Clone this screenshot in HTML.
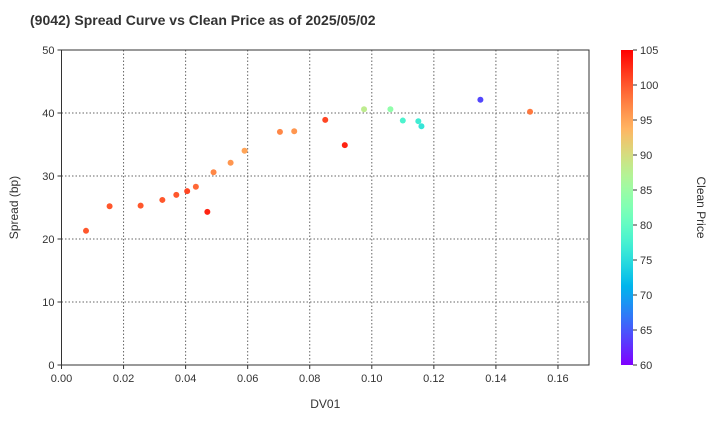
<!DOCTYPE html>
<html><head><meta charset="utf-8"><style>
body{margin:0;background:#fff}
svg text{font-family:"Liberation Sans",sans-serif;fill:#333}
</style></head><body>
<svg id="c" width="720" height="420"></svg>
<script>
const dv01=[0.0079,0.0155,0.0255,0.0325,0.037,0.0405,0.0433,0.047,0.049,0.0545,0.059,0.0704,0.075,0.085,0.0913,0.0975,0.106,0.11,0.115,0.116,0.135,0.151];
const spread=[21.3,25.2,25.3,26.2,27.0,27.6,28.3,24.3,30.6,32.1,34.0,37.0,37.1,38.9,34.9,40.6,40.6,38.8,38.7,37.9,42.1,40.2];
const price=[100,100,100,100,100,101,99,103,97,96,95,97,96,101,103,88,84,78,77,76,64,98];
const xTicks=[0,0.02,0.04,0.06,0.08,0.1,0.12,0.14,0.16];
const yTicks=[0,10,20,30,40,50];
const cTicks=[60,65,70,75,80,85,90,95,100,105];
const NS='http://www.w3.org/2000/svg';
const svg=document.getElementById('c');
const X0=61.5,X1=589,Y0=365,Y1=50;
const sx=v=>X0+v/0.17*(X1-X0);
const sy=v=>Y0-v/50*(Y0-Y1);
function mk(t,a,p){const e=document.createElementNS(NS,t);for(const k in a)e.setAttribute(k,a[k]);(p||svg).appendChild(e);return e;}
function rainbow(p){let t=(p-60)/45;t=Math.max(0,Math.min(1,t));
 const r=Math.min(1,Math.abs(2*t-0.5)),g=Math.sin(Math.PI*t),b=Math.cos(Math.PI*t/2);
 return `rgb(${Math.round(255*r)},${Math.round(255*g)},${Math.round(255*b)})`;}
let t=mk('text',{x:30,y:25,'font-size':14,'font-weight':'bold'});t.textContent='(9042)   Spread Curve vs Clean Price as of 2025/05/02';


xTicks.forEach(v=>{const x=sx(v);
 if(v>0){const l=mk('line',{x1:x,x2:x,y1:Y1,y2:Y0,stroke:'#666','stroke-dasharray':'1.5,2','stroke-width':1});
 
 }
 mk('line',{x1:x,x2:x,y1:Y0,y2:Y0+4,stroke:'#333'});
 const tx=mk('text',{x:x,y:Y0+17,'font-size':11,'text-anchor':'middle'});tx.textContent=v.toFixed(2);
 
 });
yTicks.forEach(v=>{const y=sy(v);
 if(v>0&&v<50){const l=mk('line',{x1:X0,x2:X1,y1:y,y2:y,stroke:'#666','stroke-dasharray':'1.5,2','stroke-width':1});
 
 }
 mk('line',{x1:X0-4,x2:X0,y1:y,y2:y,stroke:'#333'});
 const tx=mk('text',{x:X0-7,y:y+4,'font-size':11,'text-anchor':'end'});tx.textContent=v;
 
 });
const fr=mk('rect',{x:X0,y:Y1,width:X1-X0,height:Y0-Y1,fill:'none',stroke:'#333'});


let xl=mk('text',{x:(X0+X1)/2,y:408,'font-size':12,'text-anchor':'middle'});xl.textContent='DV01';


let yl=mk('text',{x:0,y:0,'font-size':12,'text-anchor':'middle',transform:`translate(18,${(Y0+Y1)/2}) rotate(-90)`});yl.textContent='Spread (bp)';


dv01.forEach((d,i)=>{const c=mk('circle',{cx:sx(d),cy:sy(spread[i]),r:3,fill:rainbow(price[i])});
 
 });
const defs=mk('defs',{});const g=mk('linearGradient',{id:'cb',x1:0,y1:1,x2:0,y2:0},defs);
for(let i=0;i<=40;i++){mk('stop',{offset:i/40,'stop-color':rainbow(60+45*i/40)},g);}
const CB0=621,CBW=12;
const cb=mk('rect',{x:CB0,y:Y1,width:CBW,height:Y0-Y1,fill:'url(#cb)'});


const cy=v=>Y0-(v-60)/45*(Y0-Y1);
cTicks.forEach(v=>{const y=cy(v);mk('line',{x1:CB0+CBW,x2:CB0+CBW+4,y1:y,y2:y,stroke:'#333'});
 const tx=mk('text',{x:CB0+CBW+7,y:y+4,'font-size':11});tx.textContent=v;
 
 });
let cl=mk('text',{x:0,y:0,'font-size':12,'text-anchor':'middle',transform:`translate(697,${(Y0+Y1)/2}) rotate(90)`});cl.textContent='Clean Price';


</script></body></html>
